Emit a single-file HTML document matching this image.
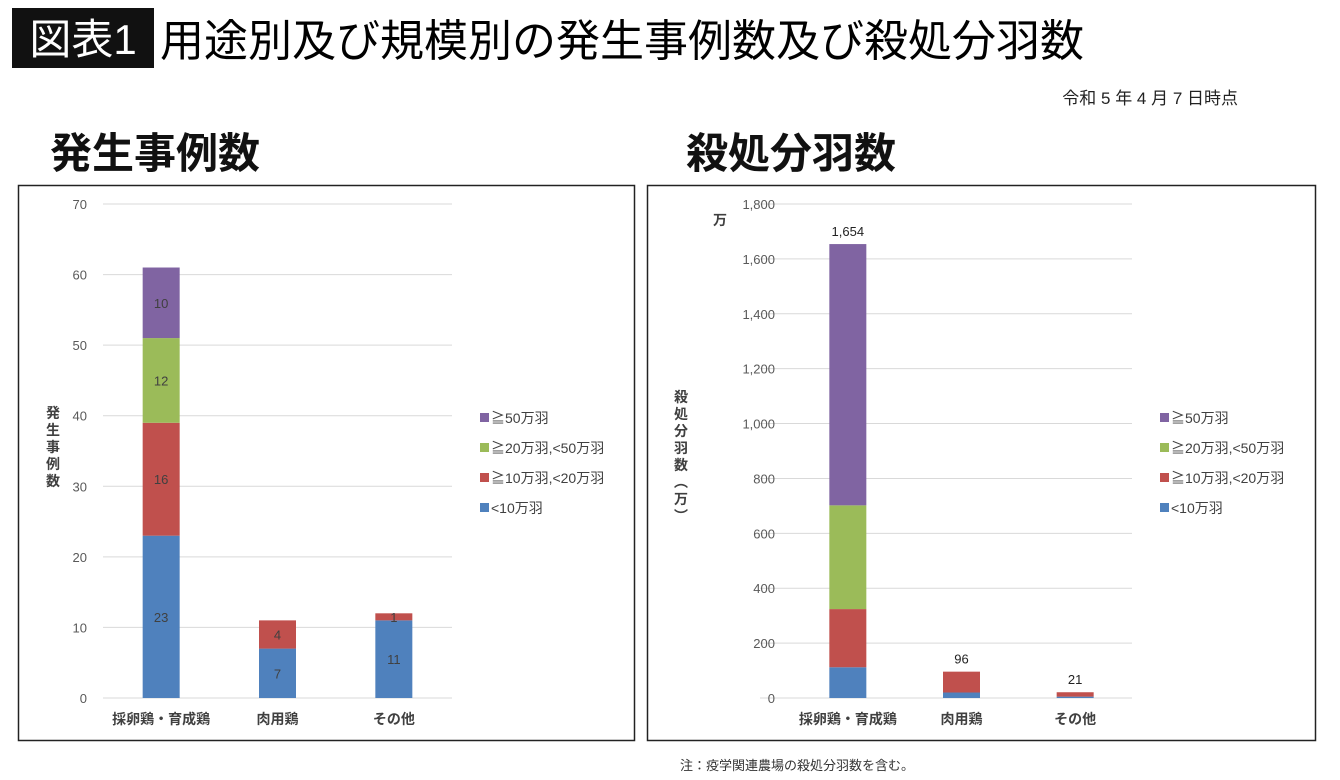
<!DOCTYPE html>
<html><head><meta charset="utf-8">
<style>
body{margin:0;background:#fff;width:1340px;height:780px;overflow:hidden;font-family:"Liberation Sans","Noto Sans CJK JP",sans-serif;}
svg{display:block}
</style></head>
<body>
<svg id="s" width="1340" height="780" xmlns="http://www.w3.org/2000/svg" font-family="Liberation Sans, Noto Sans CJK JP, sans-serif">
<rect x="12" y="8" width="142" height="60" fill="#111"/>
<text x="83" y="54" fill="#fff" font-size="42" text-anchor="middle">図表1</text>
<text x="160" y="56" fill="#000" font-size="44">用途別及び規模別の発生事例数及び殺処分羽数</text>
<text x="1238" y="104" fill="#222" font-size="17" text-anchor="end">令和 5 年 4 月 7 日時点</text>
<text x="50" y="168" fill="#111" font-size="42" font-weight="bold">発生事例数</text>
<text x="686" y="168" fill="#111" font-size="42" font-weight="bold">殺処分羽数</text>
<rect x="18.5" y="185.5" width="616" height="555" fill="none" stroke="#222" stroke-width="1.5"/>
<rect x="647.5" y="185.5" width="668" height="555" fill="none" stroke="#222" stroke-width="1.5"/>
<text x="680" y="770" fill="#333" font-size="13">注：疫学関連農場の殺処分羽数を含む。</text>
<g id="left"></g>
<g id="right"></g>
</svg>
<script>
const categories = ["採卵鶏・育成鶏", "肉用鶏", "その他"];
const seriesNames = ["<10万羽", "≧10万羽,<20万羽", "≧20万羽,<50万羽", "≧50万羽"];
const seriesColors = ["#4f81bd", "#c0504d", "#9bbb59", "#8064a2"];
const casesLt10 = [23, 7, 11];
const cases10to20 = [16, 4, 1];
const cases20to50 = [12, 0, 0];
const casesGe50 = [10, 0, 0];
const leftTicks = [0, 10, 20, 30, 40, 50, 60, 70];
const culledLt10 = [112, 20, 5];
const culled10to20 = [212, 76, 16];
const culled20to50 = [378, 0, 0];
const culledGe50 = [952, 0, 0];
const culledTotals = ["1,654", "96", "21"];
const rightTicks = [0, 200, 400, 600, 800, 1000, 1200, 1400, 1600, 1800];
const rightTickLabels = ["0", "200", "400", "600", "800", "1,000", "1,200", "1,400", "1,600", "1,800"];

const NS = "http://www.w3.org/2000/svg";
function mk(parent, tag, attrs, txt){
  const e = document.createElementNS(NS, tag);
  for (const k in attrs) e.setAttribute(k, attrs[k]);
  if (txt !== undefined) e.textContent = txt;
  parent.appendChild(e);
  return e;
}

function drawChart(g, cfg){
  const y = v => cfg.y0 - (v / cfg.max) * (cfg.y0 - cfg.y1);
  const bandW = (cfg.bx1 - cfg.bx0) / categories.length;
  const xc = i => cfg.bx0 + bandW * (i + 0.5);
  cfg.ticks.forEach((t, i) => {
    const l = mk(g, "line", {x1: cfg.x0, x2: cfg.x1, y1: y(t), y2: y(t), stroke: "#d9d9d9", "stroke-width": 1});
    
    
    const tx = mk(g, "text", {x: cfg.tickX, y: y(t) + 5, "text-anchor": "end", "font-size": 13, fill: "#595959"}, cfg.tickLabels[i]);
    
    
  });
  const series = cfg.series;
  categories.forEach((c, i) => {
    let acc = 0;
    series.forEach((arr, s) => {
      const v = arr[i];
      if (v > 0) {
        const r = mk(g, "rect", {x: xc(i) - 18.5, y: y(acc + v), width: 37, height: y(acc) - y(acc + v), fill: seriesColors[s]});
        
        
        if (cfg.segLabels) {
          const t = mk(g, "text", {x: xc(i), y: (y(acc) + y(acc + v)) / 2 + 5, "text-anchor": "middle", "font-size": 13, fill: "#404040"}, String(v));
          
          
        }
      }
      acc += v;
    });
    if (cfg.totals) {
      const t = mk(g, "text", {x: xc(i), y: y(acc) - 8, "text-anchor": "middle", "font-size": 13, fill: "#222"}, cfg.totals[i]);
      
      
    }
    const cl = mk(g, "text", {x: xc(i), y: 724, "text-anchor": "middle", "font-size": 14, "font-weight": "bold", fill: "#404040"}, c);
    
    
  });
  [3, 2, 1, 0].forEach((s, k) => {
    const ly = 418 + k * 30;
    const sq = mk(g, "rect", {x: cfg.legX, y: ly - 5, width: 9, height: 9, fill: seriesColors[s]});
    
    
    const lt = mk(g, "text", {x: cfg.legX + 11, y: ly + 5, "font-size": 14, fill: "#404040"}, seriesNames[s]);
    
    
  });
  cfg.title.split("").forEach((ch, k) => {
    const t = mk(g, "text", {x: cfg.titleX, y: cfg.titleY + k * 17, "text-anchor": "middle", "font-size": 14, "font-weight": "bold", fill: "#404040"}, ch);
    
    
  });
}

drawChart(document.getElementById("left"), {
  x0: 103, x1: 452, bx0: 103, bx1: 452, y0: 698, y1: 204, max: 70, ticks: leftTicks, tickLabels: leftTicks.map(String), tickX: 87,
  series: [casesLt10, cases10to20, cases20to50, casesGe50], segLabels: true, totals: null,
  legX: 480, title: "発生事例数", titleX: 53, titleY: 418
});
drawChart(document.getElementById("right"), {
  x0: 760, x1: 1132, bx0: 791, bx1: 1132, y0: 698, y1: 204, max: 1800, ticks: rightTicks, tickLabels: rightTickLabels, tickX: 775,
  series: [culledLt10, culled10to20, culled20to50, culledGe50], segLabels: false, totals: culledTotals,
  legX: 1160, title: "殺処分羽数︵万︶", titleX: 681, titleY: 402
});
const man = mk(document.getElementById("right"), "text", {x: 720, y: 225, "text-anchor": "middle", "font-size": 14, "font-weight": "bold", fill: "#404040"}, "万");


</script>
</body></html>
